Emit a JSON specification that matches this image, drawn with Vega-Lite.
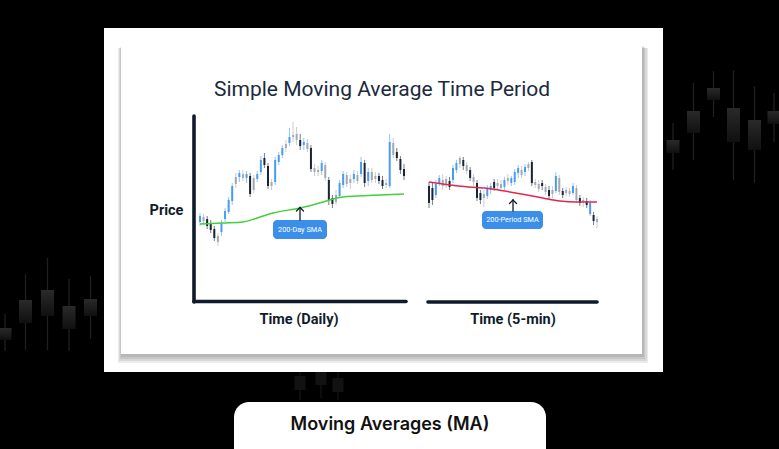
{
  "$schema": "https://vega.github.io/schema/vega-lite/v6.json",
  "width": 779,
  "height": 449,
  "padding": 0,
  "autosize": {"type": "none"},
  "background": "#000000",
  "config": {"view": {"stroke": null}, "scale": {"continuousPadding": 0}},
  "datasets": {
    "bg": [
      {"cx": 5, "open": 328, "close": 340, "high": 314, "low": 351},
      {"cx": 25.5, "open": 300, "close": 323, "high": 274, "low": 350},
      {"cx": 47.5, "open": 290, "close": 316, "high": 258, "low": 350},
      {"cx": 69, "open": 306, "close": 329, "high": 279, "low": 351},
      {"cx": 90.5, "open": 299, "close": 316, "high": 276, "low": 339},
      {"cx": 111, "open": 309, "close": 329, "high": 290, "low": 345},
      {"cx": 673, "open": 140, "close": 153, "high": 123, "low": 170},
      {"cx": 693.5, "open": 111, "close": 133, "high": 83, "low": 160},
      {"cx": 713.5, "open": 88, "close": 100, "high": 71, "low": 117},
      {"cx": 733.5, "open": 108, "close": 142, "high": 70, "low": 180},
      {"cx": 754.5, "open": 120, "close": 150, "high": 86, "low": 183},
      {"cx": 774, "open": 111, "close": 124, "high": 93, "low": 142}
    ],
    "bgFaint": [
      {"cx": 300, "open": 376, "close": 390, "high": 372, "low": 400},
      {"cx": 321, "open": 372, "close": 385, "high": 372, "low": 398},
      {"cx": 338, "open": 378, "close": 392, "high": 372, "low": 400}
    ],
    "left": [
      {"day": 0, "open": 78, "close": 84, "high": 87, "low": 74, "tone": "up"},
      {"day": 1, "open": 83, "close": 79, "high": 86, "low": 75, "tone": "flat"},
      {"day": 2, "open": 81, "close": 74, "high": 84, "low": 71, "tone": "down"},
      {"day": 3, "open": 76, "close": 70, "high": 80, "low": 67, "tone": "down"},
      {"day": 4, "open": 71, "close": 62, "high": 74, "low": 59, "tone": "down"},
      {"day": 5, "open": 64, "close": 58, "high": 67, "low": 54, "tone": "flat"},
      {"day": 6, "open": 68, "close": 77, "high": 80, "low": 64, "tone": "up"},
      {"day": 7, "open": 81, "close": 89, "high": 92, "low": 78, "tone": "up"},
      {"day": 8, "open": 88, "close": 100, "high": 103, "low": 86, "tone": "up"},
      {"day": 9, "open": 99, "close": 114, "high": 117, "low": 95, "tone": "up"},
      {"day": 10, "open": 116, "close": 123, "high": 127, "low": 112, "tone": "flat"},
      {"day": 11, "open": 123, "close": 127, "high": 130, "low": 118, "tone": "up"},
      {"day": 12, "open": 126, "close": 122, "high": 130, "low": 119, "tone": "flat"},
      {"day": 13, "open": 122, "close": 126, "high": 129, "low": 117, "tone": "up"},
      {"day": 14, "open": 124, "close": 106, "high": 127, "low": 103, "tone": "down"},
      {"day": 15, "open": 110, "close": 122, "high": 125, "low": 107, "tone": "flat"},
      {"day": 16, "open": 121, "close": 126, "high": 129, "low": 118, "tone": "up"},
      {"day": 17, "open": 128, "close": 140, "high": 144, "low": 125, "tone": "up"},
      {"day": 18, "open": 142, "close": 135, "high": 147, "low": 132, "tone": "down"},
      {"day": 19, "open": 134, "close": 114, "high": 137, "low": 111, "tone": "down"},
      {"day": 20, "open": 114, "close": 118, "high": 121, "low": 110, "tone": "flat"},
      {"day": 21, "open": 118, "close": 140, "high": 143, "low": 115, "tone": "up"},
      {"day": 22, "open": 138, "close": 145, "high": 148, "low": 135, "tone": "up"},
      {"day": 23, "open": 145, "close": 152, "high": 155, "low": 142, "tone": "up"},
      {"day": 24, "open": 152, "close": 156, "high": 160, "low": 148, "tone": "flat"},
      {"day": 25, "open": 157, "close": 163, "high": 172, "low": 154, "tone": "up"},
      {"day": 26, "open": 163, "close": 165, "high": 178, "low": 158, "tone": "flat"},
      {"day": 27, "open": 166, "close": 160, "high": 173, "low": 155, "tone": "flat"},
      {"day": 28, "open": 160, "close": 154, "high": 166, "low": 150, "tone": "down"},
      {"day": 29, "open": 155, "close": 158, "high": 162, "low": 150, "tone": "up"},
      {"day": 30, "open": 157, "close": 151, "high": 161, "low": 148, "tone": "flat"},
      {"day": 31, "open": 152, "close": 131, "high": 155, "low": 128, "tone": "down"},
      {"day": 32, "open": 132, "close": 128, "high": 136, "low": 124, "tone": "flat"},
      {"day": 33, "open": 128, "close": 130, "high": 134, "low": 124, "tone": "flat"},
      {"day": 34, "open": 129, "close": 137, "high": 140, "low": 125, "tone": "up"},
      {"day": 35, "open": 135, "close": 122, "high": 138, "low": 119, "tone": "flat"},
      {"day": 36, "open": 120, "close": 100, "high": 123, "low": 95, "tone": "down"},
      {"day": 37, "open": 102, "close": 96, "high": 105, "low": 92, "tone": "down"},
      {"day": 38, "open": 98, "close": 105, "high": 110, "low": 95, "tone": "flat"},
      {"day": 39, "open": 104, "close": 117, "high": 120, "low": 102, "tone": "up"},
      {"day": 40, "open": 115, "close": 126, "high": 129, "low": 112, "tone": "up"},
      {"day": 41, "open": 125, "close": 116, "high": 128, "low": 113, "tone": "flat"},
      {"day": 42, "open": 117, "close": 121, "high": 125, "low": 111, "tone": "flat"},
      {"day": 43, "open": 121, "close": 126, "high": 130, "low": 117, "tone": "up"},
      {"day": 44, "open": 125, "close": 119, "high": 129, "low": 116, "tone": "flat"},
      {"day": 45, "open": 126, "close": 138, "high": 143, "low": 123, "tone": "up"},
      {"day": 46, "open": 137, "close": 117, "high": 140, "low": 113, "tone": "down"},
      {"day": 47, "open": 119, "close": 128, "high": 132, "low": 114, "tone": "up"},
      {"day": 48, "open": 128, "close": 120, "high": 132, "low": 117, "tone": "flat"},
      {"day": 49, "open": 121, "close": 124, "high": 128, "low": 117, "tone": "flat"},
      {"day": 50, "open": 124, "close": 119, "high": 127, "low": 116, "tone": "down"},
      {"day": 51, "open": 120, "close": 114, "high": 124, "low": 111, "tone": "down"},
      {"day": 52, "open": 115, "close": 117, "high": 121, "low": 112, "tone": "flat"},
      {"day": 53, "open": 114, "close": 158, "high": 166, "low": 112, "tone": "up"},
      {"day": 54, "open": 157, "close": 145, "high": 162, "low": 142, "tone": "flat"},
      {"day": 55, "open": 148, "close": 142, "high": 152, "low": 139, "tone": "down"},
      {"day": 56, "open": 141, "close": 130, "high": 144, "low": 126, "tone": "down"},
      {"day": 57, "open": 131, "close": 124, "high": 136, "low": 120, "tone": "down"}
    ],
    "leftSma": [
      {"day": 0, "sma": 76},
      {"day": 6.4, "sma": 77},
      {"day": 12, "sma": 78},
      {"day": 16, "sma": 82},
      {"day": 20.4, "sma": 87},
      {"day": 28, "sma": 92},
      {"day": 34.4, "sma": 98},
      {"day": 37.2, "sma": 101},
      {"day": 40, "sma": 103},
      {"day": 43.9, "sma": 104},
      {"day": 50.3, "sma": 105},
      {"day": 57, "sma": 106}
    ],
    "right": [
      {"bar": 0, "open": 114, "close": 97, "high": 118, "low": 92, "tone": "down"},
      {"bar": 1, "open": 112, "close": 100, "high": 117, "low": 95, "tone": "down"},
      {"bar": 2, "open": 105, "close": 116, "high": 120, "low": 102, "tone": "up"},
      {"bar": 3, "open": 117, "close": 122, "high": 125, "low": 114, "tone": "up"},
      {"bar": 4, "open": 120, "close": 114, "high": 126, "low": 110, "tone": "flat"},
      {"bar": 5, "open": 116, "close": 121, "high": 124, "low": 112, "tone": "flat"},
      {"bar": 6, "open": 119, "close": 113, "high": 123, "low": 110, "tone": "down"},
      {"bar": 7, "open": 120, "close": 132, "high": 135, "low": 117, "tone": "up"},
      {"bar": 8, "open": 130, "close": 137, "high": 140, "low": 127, "tone": "up"},
      {"bar": 9, "open": 136, "close": 142, "high": 144, "low": 132, "tone": "flat"},
      {"bar": 10, "open": 140, "close": 134, "high": 143, "low": 130, "tone": "down"},
      {"bar": 11, "open": 135, "close": 129, "high": 138, "low": 126, "tone": "flat"},
      {"bar": 12, "open": 130, "close": 122, "high": 133, "low": 119, "tone": "down"},
      {"bar": 13, "open": 123, "close": 118, "high": 126, "low": 114, "tone": "flat"},
      {"bar": 14, "open": 117, "close": 102, "high": 120, "low": 99, "tone": "down"},
      {"bar": 15, "open": 107, "close": 100, "high": 110, "low": 96, "tone": "down"},
      {"bar": 16, "open": 102, "close": 106, "high": 110, "low": 93, "tone": "flat"},
      {"bar": 17, "open": 104, "close": 112, "high": 115, "low": 101, "tone": "up"},
      {"bar": 18, "open": 110, "close": 114, "high": 117, "low": 106, "tone": "up"},
      {"bar": 19, "open": 118, "close": 112, "high": 121, "low": 109, "tone": "down"},
      {"bar": 20, "open": 114, "close": 117, "high": 121, "low": 110, "tone": "flat"},
      {"bar": 21, "open": 116, "close": 112, "high": 120, "low": 109, "tone": "flat"},
      {"bar": 22, "open": 113, "close": 120, "high": 123, "low": 110, "tone": "up"},
      {"bar": 23, "open": 119, "close": 122, "high": 126, "low": 115, "tone": "flat"},
      {"bar": 24, "open": 117, "close": 122, "high": 124, "low": 114, "tone": "up"},
      {"bar": 25, "open": 118, "close": 128, "high": 131, "low": 115, "tone": "up"},
      {"bar": 26, "open": 127, "close": 132, "high": 135, "low": 122, "tone": "up"},
      {"bar": 27, "open": 130, "close": 125, "high": 134, "low": 122, "tone": "flat"},
      {"bar": 28, "open": 128, "close": 133, "high": 136, "low": 124, "tone": "up"},
      {"bar": 29, "open": 132, "close": 136, "high": 138, "low": 129, "tone": "flat"},
      {"bar": 30, "open": 138, "close": 117, "high": 140, "low": 114, "tone": "down"},
      {"bar": 31, "open": 118, "close": 115, "high": 121, "low": 112, "tone": "flat"},
      {"bar": 32, "open": 116, "close": 111, "high": 120, "low": 108, "tone": "flat"},
      {"bar": 33, "open": 114, "close": 117, "high": 120, "low": 110, "tone": "down"},
      {"bar": 34, "open": 113, "close": 108, "high": 116, "low": 105, "tone": "flat"},
      {"bar": 35, "open": 110, "close": 104, "high": 114, "low": 101, "tone": "down"},
      {"bar": 36, "open": 106, "close": 110, "high": 114, "low": 102, "tone": "flat"},
      {"bar": 37, "open": 109, "close": 124, "high": 128, "low": 107, "tone": "up"},
      {"bar": 38, "open": 122, "close": 108, "high": 125, "low": 105, "tone": "flat"},
      {"bar": 39, "open": 109, "close": 105, "high": 112, "low": 102, "tone": "down"},
      {"bar": 40, "open": 107, "close": 110, "high": 113, "low": 104, "tone": "flat"},
      {"bar": 41, "open": 109, "close": 106, "high": 112, "low": 103, "tone": "flat"},
      {"bar": 42, "open": 107, "close": 114, "high": 117, "low": 105, "tone": "up"},
      {"bar": 43, "open": 112, "close": 100, "high": 115, "low": 97, "tone": "flat"},
      {"bar": 44, "open": 102, "close": 97, "high": 105, "low": 94, "tone": "down"},
      {"bar": 45, "open": 98, "close": 100, "high": 103, "low": 93, "tone": "flat"},
      {"bar": 46, "open": 99, "close": 95, "high": 102, "low": 92, "tone": "down"},
      {"bar": 47, "open": 97, "close": 86, "high": 100, "low": 84, "tone": "up"},
      {"bar": 48, "open": 85, "close": 79, "high": 88, "low": 75, "tone": "down"},
      {"bar": 49, "open": 81, "close": 78, "high": 84, "low": 72, "tone": "flat"}
    ],
    "rightSma": [
      {"bar": 0, "sma": 118},
      {"bar": 8.5, "sma": 114},
      {"bar": 18.4, "sma": 111},
      {"bar": 23.6, "sma": 108},
      {"bar": 28.6, "sma": 105},
      {"bar": 33.2, "sma": 102},
      {"bar": 38.2, "sma": 99},
      {"bar": 43.1, "sma": 98},
      {"bar": 49, "sma": 98}
    ]
  },
  "resolve": {"scale": {"x": "independent", "y": "independent", "color": "independent"}},
  "layer": [
    {
      "layer": [
        {
          "data": {"name": "bg"},
          "mark": {"type": "rule", "color": "#1f1f1f", "strokeWidth": 1.3},
          "encoding": {
            "x": {"field": "cx", "type": "quantitative", "scale": {"domain": [0, 779], "range": [0, 779], "nice": false, "zero": false, "padding": 0}, "axis": null},
            "y": {"field": "high", "type": "quantitative", "scale": {"domain": [0, 449], "range": [0, 449], "nice": false, "zero": false, "padding": 0}, "axis": null},
            "y2": {"field": "low"}
          }
        },
        {
          "data": {"name": "bg"},
          "mark": {"type": "bar", "width": 13, "color": {"gradient": "linear", "x1": 0, "y1": 0, "x2": 0, "y2": 1, "stops": [{"offset": 0, "color": "#2a2a2a"}, {"offset": 1, "color": "#101010"}]}},
          "encoding": {
            "x": {"field": "cx", "type": "quantitative", "scale": {"domain": [0, 779], "range": [0, 779], "nice": false, "zero": false, "padding": 0}, "axis": null},
            "y": {"field": "open", "type": "quantitative", "scale": {"domain": [0, 449], "range": [0, 449], "nice": false, "zero": false, "padding": 0}, "axis": null},
            "y2": {"field": "close"}
          }
        },
        {
          "data": {"name": "bgFaint"},
          "mark": {"type": "rule", "color": "#141414", "strokeWidth": 1.2},
          "encoding": {
            "x": {"field": "cx", "type": "quantitative", "scale": {"domain": [0, 779], "range": [0, 779], "nice": false, "zero": false, "padding": 0}, "axis": null},
            "y": {"field": "high", "type": "quantitative", "scale": {"domain": [0, 449], "range": [0, 449], "nice": false, "zero": false, "padding": 0}, "axis": null},
            "y2": {"field": "low"}
          }
        },
        {
          "data": {"name": "bgFaint"},
          "mark": {"type": "bar", "width": 11, "color": "#121212"},
          "encoding": {
            "x": {"field": "cx", "type": "quantitative", "scale": {"domain": [0, 779], "range": [0, 779], "nice": false, "zero": false, "padding": 0}, "axis": null},
            "y": {"field": "open", "type": "quantitative", "scale": {"domain": [0, 449], "range": [0, 449], "nice": false, "zero": false, "padding": 0}, "axis": null},
            "y2": {"field": "close"}
          }
        },
        {
          "data": {"values": [{"x0": 104, "x1": 663, "y0": 28, "y1": 372}]},
          "mark": {"type": "rect", "color": "#ffffff"},
          "encoding": {
            "x": {"field": "x0", "type": "quantitative", "scale": {"domain": [0, 779], "range": [0, 779], "nice": false, "zero": false, "padding": 0}, "axis": null},
            "x2": {"field": "x1"},
            "y": {"field": "y0", "type": "quantitative", "scale": {"domain": [0, 449], "range": [0, 449], "nice": false, "zero": false, "padding": 0}, "axis": null},
            "y2": {"field": "y1"}
          }
        },
        {
          "data": {"values": [
            {"x0": 118, "x1": 648, "y0": 48, "y1": 363},
            {"x0": 119, "x1": 647, "y0": 48, "y1": 361},
            {"x0": 120, "x1": 645, "y0": 47, "y1": 359},
            {"x0": 121, "x1": 644, "y0": 46, "y1": 357}
          ]},
          "mark": {"type": "rect", "color": "#000000", "opacity": 0.08},
          "encoding": {
            "x": {"field": "x0", "type": "quantitative", "scale": {"domain": [0, 779], "range": [0, 779], "nice": false, "zero": false, "padding": 0}, "axis": null},
            "x2": {"field": "x1"},
            "y": {"field": "y0", "type": "quantitative", "scale": {"domain": [0, 449], "range": [0, 449], "nice": false, "zero": false, "padding": 0}, "axis": null},
            "y2": {"field": "y1"}
          }
        },
        {
          "data": {"values": [{"x0": 121, "x1": 642, "y0": 45, "y1": 354}]},
          "mark": {"type": "rect", "color": "#ffffff"},
          "encoding": {
            "x": {"field": "x0", "type": "quantitative", "scale": {"domain": [0, 779], "range": [0, 779], "nice": false, "zero": false, "padding": 0}, "axis": null},
            "x2": {"field": "x1"},
            "y": {"field": "y0", "type": "quantitative", "scale": {"domain": [0, 449], "range": [0, 449], "nice": false, "zero": false, "padding": 0}, "axis": null},
            "y2": {"field": "y1"}
          }
        },
        {
          "data": {"values": [{"x0": 234, "x1": 546, "y0": 402, "y1": 470}]},
          "mark": {"type": "rect", "color": "#ffffff", "cornerRadius": 15},
          "encoding": {
            "x": {"field": "x0", "type": "quantitative", "scale": {"domain": [0, 779], "range": [0, 779], "nice": false, "zero": false, "padding": 0}, "axis": null},
            "x2": {"field": "x1"},
            "y": {"field": "y0", "type": "quantitative", "scale": {"domain": [0, 449], "range": [0, 449], "nice": false, "zero": false, "padding": 0}, "axis": null},
            "y2": {"field": "y1"}
          }
        },
        {
          "data": {"values": [
            {"x0": 194, "x1": 194, "y0": 116, "y1": 302},
            {"x0": 194, "x1": 406, "y0": 301.5, "y1": 301.5},
            {"x0": 428, "x1": 597, "y0": 302, "y1": 302}
          ]},
          "mark": {"type": "rule", "color": "#0f1b2c", "strokeWidth": 3.6, "strokeCap": "round"},
          "encoding": {
            "x": {"field": "x0", "type": "quantitative", "scale": {"domain": [0, 779], "range": [0, 779], "nice": false, "zero": false, "padding": 0}, "axis": null},
            "x2": {"field": "x1"},
            "y": {"field": "y0", "type": "quantitative", "scale": {"domain": [0, 449], "range": [0, 449], "nice": false, "zero": false, "padding": 0}, "axis": null},
            "y2": {"field": "y1"}
          }
        }
      ]
    },
    {
      "layer": [
        {
          "data": {"name": "left"},
          "mark": {"type": "rule", "strokeWidth": 0.8, "opacity": 0.75},
          "encoding": {
            "x": {"field": "day", "type": "quantitative", "scale": {"domain": [0, 57], "range": [200, 404], "nice": false, "zero": false, "padding": 0}, "axis": null},
            "y": {"field": "high", "type": "quantitative", "scale": {"domain": [0, 200], "range": [300, 100], "nice": false, "zero": false, "padding": 0}, "axis": null},
            "y2": {"field": "low"},
            "color": {"field": "tone", "type": "nominal", "scale": {"domain": ["up", "down", "flat"], "range": ["#4a9cf0", "#1a2434", "#a3a9b3"]}, "legend": null}
          }
        },
        {
          "data": {"name": "left"},
          "mark": {"type": "bar", "width": 2},
          "encoding": {
            "x": {"field": "day", "type": "quantitative", "scale": {"domain": [0, 57], "range": [200, 404], "nice": false, "zero": false, "padding": 0}, "axis": null},
            "y": {"field": "open", "type": "quantitative", "scale": {"domain": [0, 200], "range": [300, 100], "nice": false, "zero": false, "padding": 0}, "axis": null},
            "y2": {"field": "close"},
            "color": {"field": "tone", "type": "nominal", "scale": {"domain": ["up", "down", "flat"], "range": ["#4a9cf0", "#1a2434", "#a3a9b3"]}, "legend": null}
          }
        },
        {
          "data": {"name": "leftSma"},
          "mark": {"type": "line", "color": "#3fd23a", "strokeWidth": 1.5, "interpolate": "monotone"},
          "encoding": {
            "x": {"field": "day", "type": "quantitative", "scale": {"domain": [0, 57], "range": [200, 404], "nice": false, "zero": false, "padding": 0}, "axis": null},
            "y": {"field": "sma", "type": "quantitative", "scale": {"domain": [0, 200], "range": [300, 100], "nice": false, "zero": false, "padding": 0}, "axis": null}
          }
        }
      ]
    },
    {
      "layer": [
        {
          "data": {"name": "right"},
          "mark": {"type": "rule", "strokeWidth": 0.8, "opacity": 0.75},
          "encoding": {
            "x": {"field": "bar", "type": "quantitative", "scale": {"domain": [0, 49], "range": [429, 597], "nice": false, "zero": false, "padding": 0}, "axis": null},
            "y": {"field": "high", "type": "quantitative", "scale": {"domain": [0, 200], "range": [300, 100], "nice": false, "zero": false, "padding": 0}, "axis": null},
            "y2": {"field": "low"},
            "color": {"field": "tone", "type": "nominal", "scale": {"domain": ["up", "down", "flat"], "range": ["#4a9cf0", "#1a2434", "#a3a9b3"]}, "legend": null}
          }
        },
        {
          "data": {"name": "right"},
          "mark": {"type": "bar", "width": 2},
          "encoding": {
            "x": {"field": "bar", "type": "quantitative", "scale": {"domain": [0, 49], "range": [429, 597], "nice": false, "zero": false, "padding": 0}, "axis": null},
            "y": {"field": "open", "type": "quantitative", "scale": {"domain": [0, 200], "range": [300, 100], "nice": false, "zero": false, "padding": 0}, "axis": null},
            "y2": {"field": "close"},
            "color": {"field": "tone", "type": "nominal", "scale": {"domain": ["up", "down", "flat"], "range": ["#4a9cf0", "#1a2434", "#a3a9b3"]}, "legend": null}
          }
        },
        {
          "data": {"name": "rightSma"},
          "mark": {"type": "line", "color": "#e0284f", "strokeWidth": 1.5, "interpolate": "monotone"},
          "encoding": {
            "x": {"field": "bar", "type": "quantitative", "scale": {"domain": [0, 49], "range": [429, 597], "nice": false, "zero": false, "padding": 0}, "axis": null},
            "y": {"field": "sma", "type": "quantitative", "scale": {"domain": [0, 200], "range": [300, 100], "nice": false, "zero": false, "padding": 0}, "axis": null}
          }
        }
      ]
    },
    {
      "layer": [
        {
          "data": {"values": [
            {"x0": 273, "x1": 327, "y0": 220, "y1": 239},
            {"x0": 482, "x1": 543, "y0": 211, "y1": 229}
          ]},
          "mark": {"type": "rect", "color": "#3b8fea", "cornerRadius": 4},
          "encoding": {
            "x": {"field": "x0", "type": "quantitative", "scale": {"domain": [0, 779], "range": [0, 779], "nice": false, "zero": false, "padding": 0}, "axis": null},
            "x2": {"field": "x1"},
            "y": {"field": "y0", "type": "quantitative", "scale": {"domain": [0, 449], "range": [0, 449], "nice": false, "zero": false, "padding": 0}, "axis": null},
            "y2": {"field": "y1"}
          }
        },
        {
          "data": {"values": [
            {"x0": 300, "x1": 300, "y0": 207.5, "y1": 220},
            {"x0": 296.5, "x1": 300, "y0": 211, "y1": 207.5},
            {"x0": 303.5, "x1": 300, "y0": 211, "y1": 207.5},
            {"x0": 513, "x1": 513, "y0": 200, "y1": 211},
            {"x0": 509.5, "x1": 513, "y0": 203.5, "y1": 200},
            {"x0": 516.5, "x1": 513, "y0": 203.5, "y1": 200}
          ]},
          "mark": {"type": "rule", "color": "#111c2b", "strokeWidth": 1.3, "strokeCap": "round"},
          "encoding": {
            "x": {"field": "x0", "type": "quantitative", "scale": {"domain": [0, 779], "range": [0, 779], "nice": false, "zero": false, "padding": 0}, "axis": null},
            "x2": {"field": "x1"},
            "y": {"field": "y0", "type": "quantitative", "scale": {"domain": [0, 449], "range": [0, 449], "nice": false, "zero": false, "padding": 0}, "axis": null},
            "y2": {"field": "y1"}
          }
        },
        {
          "data": {"values": [
            {"fx": 300, "fy": 229.5, "label": "200-Day SMA"},
            {"fx": 512.5, "fy": 220, "label": "200-Period SMA"}
          ]},
          "mark": {"type": "text", "color": "#ffffff", "font": "Roboto", "fontSize": 7.3, "align": "center", "baseline": "middle"},
          "encoding": {
            "x": {"field": "fx", "type": "quantitative", "scale": {"domain": [0, 779], "range": [0, 779], "nice": false, "zero": false, "padding": 0}, "axis": null},
            "y": {"field": "fy", "type": "quantitative", "scale": {"domain": [0, 449], "range": [0, 449], "nice": false, "zero": false, "padding": 0}, "axis": null},
            "text": {"field": "label"}
          }
        },
        {
          "data": {"values": [
            {"fx": 382, "fy": 96, "label": "Simple Moving Average Time Period"}
          ]},
          "mark": {"type": "text", "color": "#1b2a3d", "font": "Roboto", "fontSize": 21, "fontWeight": 400, "align": "center", "baseline": "alphabetic"},
          "encoding": {
            "x": {"field": "fx", "type": "quantitative", "scale": {"domain": [0, 779], "range": [0, 779], "nice": false, "zero": false, "padding": 0}, "axis": null},
            "y": {"field": "fy", "type": "quantitative", "scale": {"domain": [0, 449], "range": [0, 449], "nice": false, "zero": false, "padding": 0}, "axis": null},
            "text": {"field": "label"}
          }
        },
        {
          "data": {"values": [
            {"fx": 166.5, "fy": 211, "label": "Price"},
            {"fx": 299, "fy": 320, "label": "Time (Daily)"},
            {"fx": 513, "fy": 320, "label": "Time (5-min)"}
          ]},
          "mark": {"type": "text", "color": "#111c2b", "font": "Roboto", "fontSize": 14.5, "fontWeight": "bold", "align": "center", "baseline": "middle"},
          "encoding": {
            "x": {"field": "fx", "type": "quantitative", "scale": {"domain": [0, 779], "range": [0, 779], "nice": false, "zero": false, "padding": 0}, "axis": null},
            "y": {"field": "fy", "type": "quantitative", "scale": {"domain": [0, 449], "range": [0, 449], "nice": false, "zero": false, "padding": 0}, "axis": null},
            "text": {"field": "label"}
          }
        },
        {
          "data": {"values": [
            {"fx": 390, "fy": 425, "label": "Moving Averages (MA)"}
          ]},
          "mark": {"type": "text", "color": "#111111", "font": "Inter", "fontSize": 18, "fontWeight": 600, "align": "center", "baseline": "middle"},
          "encoding": {
            "x": {"field": "fx", "type": "quantitative", "scale": {"domain": [0, 779], "range": [0, 779], "nice": false, "zero": false, "padding": 0}, "axis": null},
            "y": {"field": "fy", "type": "quantitative", "scale": {"domain": [0, 449], "range": [0, 449], "nice": false, "zero": false, "padding": 0}, "axis": null},
            "text": {"field": "label"}
          }
        }
      ]
    }
  ]
}
